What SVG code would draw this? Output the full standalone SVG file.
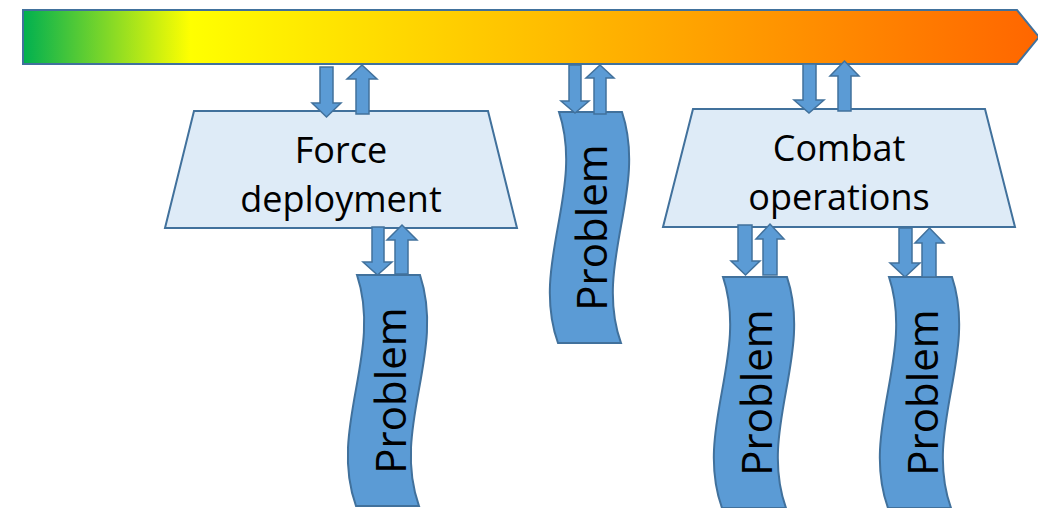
<svg xmlns="http://www.w3.org/2000/svg" width="1038" height="508" viewBox="0 0 1038 508">
  <defs>
    <linearGradient id="barGrad" x1="23" y1="0" x2="1038" y2="0" gradientUnits="userSpaceOnUse">
      <stop offset="0" stop-color="#00B050"/>
      <stop offset="0.165" stop-color="#FFFF00"/>
      <stop offset="0.37" stop-color="#FFD800"/>
      <stop offset="0.61" stop-color="#FFAC00"/>
      <stop offset="1" stop-color="#FF6600"/>
    </linearGradient>
  </defs>
  <style>
    .bar { fill: url(#barGrad); stroke: #41719C; stroke-width: 2; }
    .trap { fill: #DEEBF7; stroke: #41719C; stroke-width: 2; }
    .wave { fill: #5B9BD5; stroke: #41719C; stroke-width: 2; }
    .arr { fill: #5B9BD5; stroke: #41719C; stroke-width: 1.5; stroke-linejoin: miter; }
    .lbl { font-family: "Open Sans", "Liberation Sans", sans-serif; font-size: 36px; fill: #000; text-anchor: middle; }
    .prob { font-family: "Open Sans", "Liberation Sans", sans-serif; font-size: 42px; fill: #000; text-anchor: middle; }
  </style>
  <rect width="1038" height="508" fill="#FFFFFF"/>

  <g id="timeline">
    <polygon class="bar" points="23,10 1017,10 1039,37 1017,64 23,64"/>
  </g>

  <g id="force-deployment">
    <polygon class="trap" points="194,111 488,111 517,228 165,228"/>
    <text class="lbl" x="341" y="163">Force</text>
    <text class="lbl" x="341" y="212">deployment</text>
  </g>

  <g id="combat-operations">
    <polygon class="trap" points="693,109 985,109 1015,227 663,227"/>
    <text class="lbl" x="839" y="161">Combat</text>
    <text class="lbl" x="839" y="210">operations</text>
  </g>

  <g id="problem-1">
    <path class="wave" d="M357,275 h63 c26,78 -29,153 -1,231 h-63 c-28,-78 27,-153 1,-231 z"/>
    <text class="prob" transform="translate(406,390.5) rotate(-90)">Problem</text>
  </g>

  <g id="problem-2">
    <path class="wave" d="M559,112 h63 c26,78 -29,153 -1,231 h-63 c-28,-78 27,-153 1,-231 z"/>
    <text class="prob" transform="translate(607,227.5) rotate(-90)">Problem</text>
  </g>

  <g id="problem-3">
    <path class="wave" d="M723,277 h64 c26,78 -29,153 -1,231 h-64 c-28,-78 27,-153 1,-231 z"/>
    <text class="prob" transform="translate(772,392.5) rotate(-90)">Problem</text>
  </g>

  <g id="problem-4">
    <path class="wave" d="M889,277 h63 c26,78 -29,153 -1,231 h-63 c-28,-78 27,-153 1,-231 z"/>
    <text class="prob" transform="translate(938,392.5) rotate(-90)">Problem</text>
  </g>

  <g id="connectors">
    <!-- timeline <-> Force deployment -->
    <polygon class="arr" points="320,67 333,67 333,103 341,103 326.5,117 312,103 320,103"/>
    <polygon class="arr" points="356,114 369,114 369,79 377,79 362,65 347,79 356,79"/>
    <!-- timeline <-> middle Problem -->
    <polygon class="arr" points="569,65 581,65 581,101 589,101 575,113 561,101 569,101"/>
    <polygon class="arr" points="594,114 606,114 606,78 614,78 600,65 586,78 594,78"/>
    <!-- timeline <-> Combat operations -->
    <polygon class="arr" points="803,64 816,64 816,100 824,100 809,113 794,100 803,100"/>
    <polygon class="arr" points="838,111 851,111 851,76 859,76 844.5,61 830,76 838,76"/>
    <!-- Force deployment <-> Problem 1 -->
    <polygon class="arr" points="372,227 384,227 384,262 392,262 377.5,275 363,262 372,262"/>
    <polygon class="arr" points="395,274 408,274 408,240 417,240 402,225 387,240 395,240"/>
    <!-- Combat operations <-> Problem 3 -->
    <polygon class="arr" points="738,225 752,225 752,261 760,261 745.5,275 731,261 738,261"/>
    <polygon class="arr" points="763,275 777,275 777,239 784,239 770,224 756,239 763,239"/>
    <!-- Combat operations <-> Problem 4 -->
    <polygon class="arr" points="899,228 912,228 912,263 920,263 905,277 890,263 899,263"/>
    <polygon class="arr" points="922,277 936,277 936,243 944,243 929.5,228 915,243 922,243"/>
  </g>
</svg>
